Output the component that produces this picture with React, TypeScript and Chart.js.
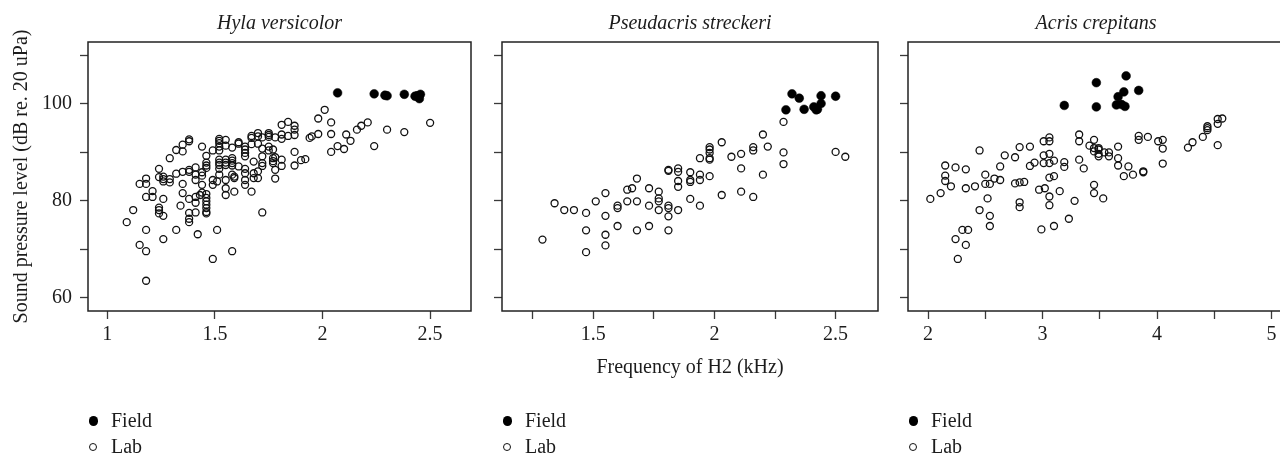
import React, { useEffect, useRef } from 'react';
import { Chart, registerables } from 'chart.js';

Chart.register(...registerables);

type P = [number, number];

// ---------------- data ----------------
const panelTitles = ['Hyla versicolor', 'Pseudacris streckeri', 'Acris crepitans'];
const seriesLabels = ['Field', 'Lab'];
const yAxisTitle = 'Sound pressure level (dB re. 20 uPa)';
const xAxisTitle = 'Frequency of H2 (kHz)';

const yTicks = [60, 70, 80, 90, 100, 110];
const yTickLabels = [60, 80, 100];

const hylaXTicks = [1, 1.5, 2, 2.5];
const hylaXLabels = [1, 1.5, 2, 2.5];
const pseudXTicks = [1.25, 1.5, 1.75, 2, 2.25, 2.5];
const pseudXLabels = [1.5, 2, 2.5];
const acrisXTicks = [2, 2.5, 3, 3.5, 4, 4.5, 5];
const acrisXLabels = [2, 3, 4, 5];

const hylaField: P[] = [
  [2.07, 102.3], [2.24, 102.1], [2.29, 101.8], [2.3, 101.7], [2.38, 102.0],
  [2.43, 101.6], [2.44, 101.7], [2.455, 102.0], [2.45, 101.1],
];

const hylaLab: P[] = [
  [1.09, 75.6], [1.12, 78.1], [1.15, 83.5], [1.15, 70.9], [1.18, 84.6], [1.18, 83.5], [1.18, 80.8],
  [1.18, 74.0], [1.18, 69.6], [1.18, 63.5], [1.21, 82.0], [1.21, 80.8], [1.24, 86.6], [1.24, 84.9],
  [1.24, 78.6], [1.24, 78.1], [1.24, 77.4], [1.26, 85.0], [1.26, 84.5], [1.26, 84.0], [1.26, 80.4],
  [1.26, 76.9], [1.26, 72.1], [1.29, 88.8], [1.29, 84.5], [1.29, 83.8], [1.32, 90.5], [1.32, 85.6],
  [1.32, 74.0], [1.34, 79.0], [1.35, 91.6], [1.35, 90.2], [1.35, 86.0], [1.35, 83.5], [1.35, 81.6],
  [1.38, 92.7], [1.38, 92.3], [1.38, 86.4], [1.38, 86.0], [1.38, 80.4], [1.38, 77.5], [1.38, 76.3],
  [1.38, 75.6], [1.41, 86.9], [1.41, 85.4], [1.41, 84.3], [1.41, 80.8], [1.41, 79.6], [1.41, 77.6],
  [1.42, 73.1], [1.43, 81.2], [1.44, 91.2], [1.44, 85.9], [1.44, 85.2], [1.44, 83.3], [1.44, 81.7],
  [1.46, 89.3], [1.46, 87.9], [1.46, 87.3], [1.46, 86.8], [1.46, 81.4], [1.46, 80.6], [1.46, 79.9],
  [1.46, 79.2], [1.46, 78.5], [1.46, 77.7], [1.46, 77.4], [1.49, 90.4], [1.49, 84.3], [1.49, 83.3],
  [1.49, 68.0], [1.51, 74.0], [1.51, 84.0], [1.52, 92.8], [1.52, 92.4], [1.52, 91.9], [1.52, 91.2],
  [1.52, 90.4], [1.52, 88.5], [1.52, 87.9], [1.52, 87.4], [1.52, 86.6], [1.52, 85.4], [1.55, 92.6],
  [1.55, 91.4], [1.55, 88.5], [1.55, 87.9], [1.55, 87.4], [1.55, 84.3], [1.55, 82.6], [1.55, 81.2],
  [1.58, 91.0], [1.58, 88.8], [1.58, 88.3], [1.58, 87.8], [1.58, 87.3], [1.58, 85.4], [1.58, 69.6],
  [1.59, 85.0], [1.59, 84.7], [1.59, 81.9], [1.61, 92.1], [1.61, 91.8], [1.61, 87.1], [1.64, 91.2],
  [1.64, 90.6], [1.64, 89.9], [1.64, 89.2], [1.64, 86.6], [1.64, 85.7], [1.64, 84.3], [1.64, 83.3],
  [1.67, 93.4], [1.67, 93.0], [1.67, 91.7], [1.67, 81.9], [1.68, 88.1], [1.68, 85.7], [1.68, 84.7],
  [1.7, 94.0], [1.7, 93.3], [1.7, 91.8], [1.7, 86.1], [1.7, 84.7], [1.72, 93.1], [1.72, 90.8],
  [1.72, 89.2], [1.72, 87.8], [1.72, 87.2], [1.72, 77.6], [1.75, 94.0], [1.75, 93.6], [1.75, 93.2],
  [1.75, 91.2], [1.75, 90.4], [1.77, 88.8], [1.77, 88.2], [1.77, 87.8], [1.77, 90.6], [1.78, 93.1],
  [1.78, 89.0], [1.78, 86.4], [1.78, 84.6], [1.81, 95.7], [1.81, 93.7], [1.81, 92.8], [1.81, 88.5],
  [1.81, 87.2], [1.84, 96.3], [1.84, 93.4], [1.87, 95.5], [1.87, 94.7], [1.87, 93.6], [1.87, 90.1],
  [1.87, 87.3], [1.9, 88.4], [1.92, 88.6], [1.94, 93.0], [1.95, 93.3], [1.98, 93.8], [1.98, 97.0],
  [2.01, 98.8], [2.04, 96.2], [2.04, 93.8], [2.04, 90.1], [2.07, 91.3], [2.1, 90.7], [2.11, 93.7],
  [2.13, 92.4], [2.16, 94.7], [2.18, 95.5], [2.21, 96.2], [2.24, 91.3], [2.3, 94.7], [2.38, 94.2],
  [2.5, 96.1],
];

const pseudField: P[] = [
  [2.32, 102.1], [2.35, 101.2], [2.295, 98.8], [2.37, 98.9], [2.41, 99.4],
  [2.42, 98.8], [2.425, 98.9], [2.44, 101.7], [2.44, 100.1], [2.5, 101.6],
];

const pseudLab: P[] = [
  [1.29, 72.0], [1.34, 79.5], [1.38, 78.1], [1.42, 78.1], [1.47, 77.5], [1.47, 73.9], [1.47, 69.4],
  [1.51, 79.9], [1.55, 81.6], [1.55, 76.9], [1.55, 73.0], [1.55, 70.8], [1.6, 79.0], [1.6, 78.5],
  [1.6, 74.8], [1.64, 82.3], [1.64, 79.9], [1.66, 82.6], [1.68, 84.6], [1.68, 79.9], [1.68, 73.9],
  [1.73, 82.6], [1.73, 79.0], [1.73, 74.8], [1.77, 81.9], [1.77, 80.5], [1.77, 79.9], [1.77, 78.1],
  [1.81, 86.4], [1.81, 86.2], [1.81, 79.0], [1.81, 78.5], [1.81, 76.8], [1.81, 73.9], [1.85, 86.7],
  [1.85, 86.0], [1.85, 84.1], [1.85, 82.9], [1.85, 78.1], [1.9, 85.9], [1.9, 84.3], [1.9, 83.9],
  [1.9, 80.4], [1.94, 88.8], [1.94, 85.4], [1.94, 84.3], [1.94, 79.0], [1.98, 91.1], [1.98, 90.6],
  [1.98, 89.9], [1.98, 88.8], [1.98, 88.5], [1.98, 85.1], [2.03, 92.1], [2.03, 81.2], [2.07, 89.1],
  [2.11, 89.7], [2.11, 86.7], [2.11, 81.9], [2.16, 91.1], [2.16, 90.4], [2.16, 80.8], [2.2, 93.7],
  [2.2, 85.4], [2.22, 91.2], [2.285, 96.3], [2.285, 90.0], [2.285, 87.6], [2.5, 90.1], [2.54, 89.1],
];

const acrisField: P[] = [
  [3.19, 99.7], [3.47, 104.4], [3.47, 99.4], [3.645, 99.8], [3.66, 101.5],
  [3.69, 99.9], [3.72, 99.5], [3.71, 102.5], [3.73, 105.8], [3.84, 102.8],
];

const acrisLab: P[] = [
  [2.02, 80.4], [2.11, 81.6], [2.15, 87.3], [2.15, 85.2], [2.15, 84.1], [2.2, 83.0], [2.24, 86.9],
  [2.24, 72.1], [2.26, 68.0], [2.3, 74.0], [2.33, 86.5], [2.33, 82.6], [2.33, 70.9], [2.35, 74.0],
  [2.41, 83.0], [2.45, 90.4], [2.45, 78.1], [2.5, 85.4], [2.5, 83.5], [2.52, 80.5], [2.54, 83.5],
  [2.54, 76.9], [2.54, 74.8], [2.58, 84.6], [2.63, 87.1], [2.63, 84.3], [2.67, 89.4], [2.76, 89.0],
  [2.76, 83.6], [2.8, 91.1], [2.8, 83.8], [2.8, 79.7], [2.8, 78.7], [2.84, 83.9], [2.89, 91.2],
  [2.89, 87.2], [2.93, 87.9], [2.97, 82.3], [2.99, 74.1], [3.01, 92.3], [3.01, 89.4], [3.01, 87.8],
  [3.02, 82.6], [3.06, 93.1], [3.06, 92.3], [3.06, 89.7], [3.06, 87.8], [3.06, 84.8], [3.06, 80.9],
  [3.06, 79.1], [3.1, 88.3], [3.1, 85.1], [3.1, 74.8], [3.15, 82.0], [3.19, 88.0], [3.19, 87.0],
  [3.23, 76.3], [3.28, 80.0], [3.32, 93.7], [3.32, 92.3], [3.32, 88.5], [3.36, 86.7], [3.41, 91.4],
  [3.45, 92.6], [3.45, 90.9], [3.45, 90.2], [3.45, 83.3], [3.45, 81.6], [3.49, 90.9], [3.49, 90.6],
  [3.49, 89.7], [3.49, 89.2], [3.53, 80.5], [3.54, 90.0], [3.58, 90.0], [3.58, 89.2], [3.66, 91.2],
  [3.66, 88.8], [3.66, 87.3], [3.71, 85.1], [3.75, 87.1], [3.79, 85.4], [3.84, 93.4], [3.84, 92.6],
  [3.88, 86.1], [3.88, 85.9], [3.92, 93.2], [4.01, 92.3], [4.05, 92.6], [4.05, 90.8], [4.05, 87.7],
  [4.27, 91.0], [4.31, 92.1], [4.4, 93.2], [4.44, 95.4], [4.44, 95.0], [4.44, 94.6], [4.53, 96.9],
  [4.53, 95.9], [4.53, 91.5], [4.57, 97.0],
];

// ---------------- layout constants ----------------
const H = 455;
const PLOT_TOP = 42;
const PLOT_BOTTOM = 311;
const X_AXIS_H = 75;
const RIGHT_PAD = 6;
const Y_MIN = 57.25;
const Y_MAX = 112.8;
const FONT = '"Liberation Serif", "Times New Roman", serif';
const INK = '#1c1c1c';

Chart.defaults.font.family = FONT;
Chart.defaults.font.size = 20;
Chart.defaults.color = INK;

const panelDecor = {
  id: 'panelDecor',
  afterDraw(chart: any, _args: any, opts: any) {
    const { ctx, chartArea: a } = chart;
    ctx.save();
    ctx.strokeStyle = '#222';
    ctx.lineWidth = 1.5;
    ctx.strokeRect(a.left, a.top, a.right - a.left, a.bottom - a.top);
    ctx.font = `italic 20px ${FONT}`;
    ctx.fillStyle = INK;
    ctx.textAlign = 'center';
    ctx.textBaseline = 'alphabetic';
    ctx.fillText(opts.title, (a.left + a.right) / 2, 28.5);
    ctx.restore();
  },
};

interface PanelProps {
  title: string;
  field: P[];
  lab: P[];
  xMin: number;
  xMax: number;
  xTicks: number[];
  xLabels: number[];
  canvasLeft: number;
  axisW: number;
  plotW: number;
  showYLabels: boolean;
  yTitle?: string;
  xTitle?: string;
}

function Panel(p: PanelProps) {
  const ref = useRef<HTMLCanvasElement>(null);
  const width = p.axisW + p.plotW + RIGHT_PAD;

  useEffect(() => {
    const tickGrid = {
      display: true,
      drawOnChartArea: false,
      drawTicks: true,
      tickLength: 8,
      tickWidth: 1.3,
      tickColor: '#3a3a3a',
    };
    const chart = new Chart(ref.current as HTMLCanvasElement, {
      type: 'scatter',
      data: {
        datasets: [
          {
            label: seriesLabels[0],
            data: p.field.map(([x, y]) => ({ x, y })),
            pointRadius: 4.4,
            pointBackgroundColor: '#000',
            pointBorderColor: '#000',
            pointBorderWidth: 0.5,
          },
          {
            label: seriesLabels[1],
            data: p.lab.map(([x, y]) => ({ x, y })),
            pointRadius: 3.5,
            pointBackgroundColor: 'rgba(0,0,0,0)',
            pointBorderColor: '#111',
            pointBorderWidth: 1.3,
          },
        ],
      },
      options: {
        responsive: false,
        animation: false,
        events: [],
        layout: {
          autoPadding: false,
          padding: { left: 0, right: RIGHT_PAD, top: PLOT_TOP, bottom: H - PLOT_BOTTOM - X_AXIS_H },
        },
        plugins: {
          legend: { display: false },
          tooltip: { enabled: false },
          title: { display: false },
          panelDecor: { title: p.title },
        } as any,
        scales: {
          x: {
            type: 'linear',
            position: 'bottom',
            min: p.xMin,
            max: p.xMax,
            afterBuildTicks: (s: any) => {
              s.ticks = p.xTicks.map((v) => ({ value: v }));
            },
            afterFit: (s: any) => {
              s.height = X_AXIS_H;
            },
            grid: tickGrid,
            border: { display: false },
            ticks: {
              autoSkip: false,
              maxRotation: 0,
              minRotation: 0,
              padding: 4,
              color: INK,
              font: { size: 20 },
              callback: (v: any) => (p.xLabels.includes(Number(v)) ? String(v) : ''),
            },
            title: p.xTitle
              ? { display: true, text: p.xTitle, color: INK, font: { size: 20 }, padding: { top: 0, bottom: 6 } }
              : { display: false },
          },
          y: {
            type: 'linear',
            position: 'left',
            min: Y_MIN,
            max: Y_MAX,
            afterBuildTicks: (s: any) => {
              s.ticks = yTicks.map((v) => ({ value: v }));
            },
            afterFit: (s: any) => {
              s.width = p.axisW;
            },
            grid: tickGrid,
            border: { display: false },
            ticks: {
              autoSkip: false,
              padding: 8,
              color: INK,
              font: { size: 20 },
              callback: (v: any) => (p.showYLabels && yTickLabels.includes(Number(v)) ? String(v) : ''),
            },
            title: p.yTitle
              ? { display: true, text: p.yTitle, color: INK, font: { size: 20 }, padding: { top: 10, bottom: 0 } }
              : { display: false },
          },
        },
      },
      plugins: [panelDecor as any],
    });
    return () => chart.destroy();
  }, []);

  const legendLeft = p.canvasLeft + p.axisW;
  const sym = (filled: boolean, cy: number) => {
    const r = filled ? 4.8 : 4.2;
    return (
      <span
        style={{
          position: 'absolute',
          left: legendLeft + 5.5 - r,
          top: cy - r,
          width: filled ? 2 * r : 2 * r - 2.4,
          height: filled ? 2 * r : 2 * r - 2.4,
          borderRadius: '50%',
          background: filled ? '#000' : 'transparent',
          border: filled ? 'none' : '1.2px solid #111',
          boxSizing: 'content-box',
        }}
      />
    );
  };
  const txt = (s: string, top: number) => (
    <span
      style={{
        position: 'absolute',
        left: legendLeft + 23,
        top,
        font: `20px/24px ${FONT}`,
        color: INK,
        whiteSpace: 'nowrap',
      }}
    >
      {s}
    </span>
  );

  return (
    <>
      <canvas
        ref={ref}
        width={width}
        height={H}
        style={{ position: 'absolute', left: p.canvasLeft, top: 0, width, height: H }}
      />
      {sym(true, 421)}
      {txt(seriesLabels[0], 408)}
      {sym(false, 447)}
      {txt(seriesLabels[1], 434)}
    </>
  );
}

export default function App() {
  return (
    <div
      style={{
        position: 'absolute',
        left: 0,
        top: 0,
        width: 1280,
        height: H,
        overflow: 'hidden',
        background: '#fff',
      }}
    >
      <Panel
        title={panelTitles[0]}
        field={hylaField}
        lab={hylaLab}
        xMin={0.91}
        xMax={2.69}
        xTicks={hylaXTicks}
        xLabels={hylaXLabels}
        canvasLeft={0}
        axisW={88}
        plotW={383}
        showYLabels={true}
        yTitle={yAxisTitle}
      />
      <Panel
        title={panelTitles[1]}
        field={pseudField}
        lab={pseudLab}
        xMin={1.123}
        xMax={2.675}
        xTicks={pseudXTicks}
        xLabels={pseudXLabels}
        canvasLeft={482}
        axisW={20}
        plotW={376}
        showYLabels={false}
        xTitle={xAxisTitle}
      />
      <Panel
        title={panelTitles[2]}
        field={acrisField}
        lab={acrisLab}
        xMin={1.825}
        xMax={5.109}
        xTicks={acrisXTicks}
        xLabels={acrisXLabels}
        canvasLeft={888}
        axisW={20}
        plotW={376}
        showYLabels={false}
      />
    </div>
  );
}
